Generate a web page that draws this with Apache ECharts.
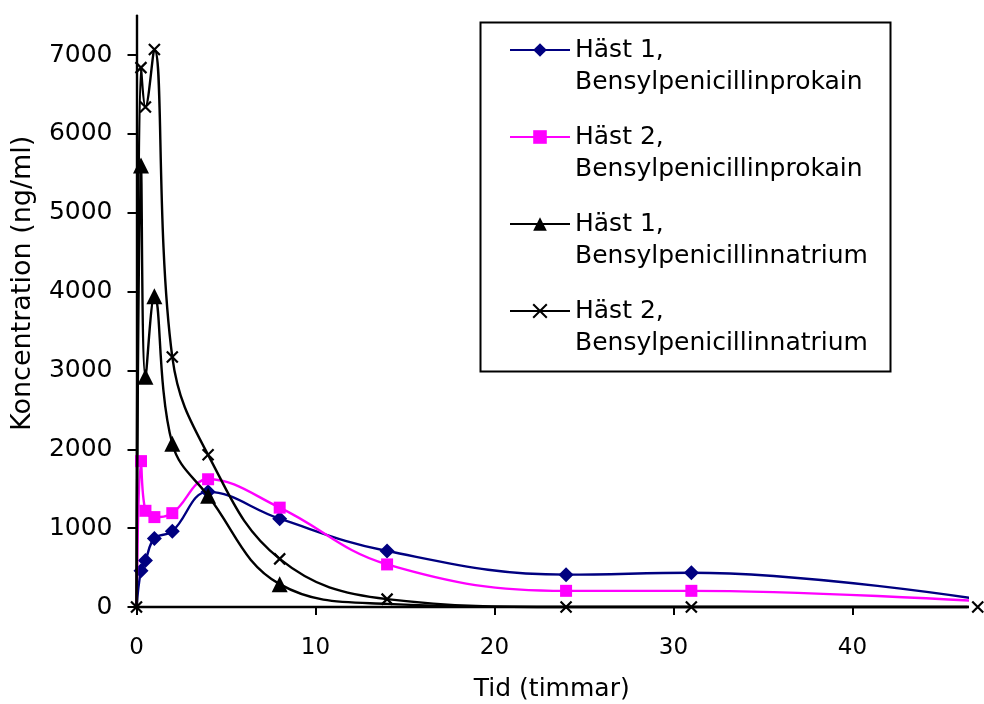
<!DOCTYPE html>
<html><head><meta charset="utf-8">
<script src="https://cdn.jsdelivr.net/npm/echarts@6/dist/echarts.min.js"></script>
<style>html,body{margin:0;padding:0;background:#fff}#c{width:984px;height:704px}</style>
</head><body><div id="c"></div>
<script>
// ---- data ----
const timesHours = [0, 0.25, 0.5, 1, 2, 4, 8, 14, 24, 31, 47];
const hast1Prokain = [0, 460, 590, 870, 960, 1460, 1120, 710, 410, 435, 100];
const hast2Prokain = [0, 1850, 1220, 1140, 1190, 1620, 1260, 540, 205, 205, 75];
const hast1Natrium = [0, 5600, 2920, 3940, 2070, 1410, 290, 40, 0, 0, 0];
const hast2Natrium = [0, 6840, 6340, 7070, 3170, 1930, 610, 100, 0, 0, 0];
const seriesNames = [
  'Häst 1, Bensylpenicillinprokain',
  'Häst 2, Bensylpenicillinprokain',
  'Häst 1, Bensylpenicillinnatrium',
  'Häst 2, Bensylpenicillinnatrium'
];
const xTickValues = [0, 10, 20, 30, 40];
const yTickValues = [0, 1000, 2000, 3000, 4000, 5000, 6000, 7000];
const xAxisTitle = 'Tid (timmar)';
const yAxisTitle = 'Koncentration (ng/ml)';

const FONT = 'DejaVu Sans';
const crossPath = 'path://M0 0L10 10M10 0L0 10';

function pts(values, isCross) {
  return timesHours.map((t, i) => {
    const item = { value: [t, values[i]] };
    // markers hidden where the cross marker (drawn with white box) covers them
    if (!isCross && Math.abs(values[i] - hast2Natrium[i]) < 150) item.symbol = 'none';
    return item;
  });
}

const styles = [
  { color: '#000080', symbol: 'diamond', size: 15, clip: true },
  { color: '#FF00FF', symbol: 'rect', size: 12, clip: true },
  { color: '#000000', symbol: 'triangle', size: 16, clip: true },
  { color: '#000000', symbol: crossPath, size: 11, clip: false }
];
const allValues = [hast1Prokain, hast2Prokain, hast1Natrium, hast2Natrium];

const series = allValues.map((vals, k) => ({
  name: seriesNames[k],
  type: 'line',
  smooth: 0.4,
  data: pts(vals, k === 3),
  symbol: styles[k].symbol,
  symbolSize: styles[k].size,
  showAllSymbol: true,
  clip: styles[k].clip,
  z: 2 + k,
  lineStyle: { color: styles[k].color, width: 2.4 },
  itemStyle: k === 3
    ? { color: '#000', borderColor: '#000', borderWidth: 2.2 }
    : { color: styles[k].color, borderWidth: 0 },
  emphasis: { disabled: true }
}));

const chart = echarts.init(document.getElementById('c'), null, { renderer: 'canvas' });
chart.setOption({
  animation: false,
  backgroundColor: '#fff',
  grid: { left: 136.5, right: 17, top: 15.6, bottom: 97, containLabel: false, outerBoundsMode: 'none' },
  xAxis: {
    type: 'value', min: 0, max: 46.4,
    name: xAxisTitle, nameLocation: 'middle', nameGap: 70,
    nameTextStyle: { fontFamily: FONT, fontSize: 25, color: '#000' },
    axisLine: { lineStyle: { color: '#000', width: 2.4 } },
    axisTick: { show: true, length: 8, lineStyle: { color: '#000', width: 2 }, customValues: xTickValues },
    axisLabel: { fontFamily: FONT, fontSize: 23, color: '#000', margin: 30, customValues: xTickValues },
    splitLine: { show: false }
  },
  yAxis: {
    type: 'value', min: 0, max: 7500,
    name: yAxisTitle, nameLocation: 'middle', nameGap: 100, nameRotate: 90,
    nameTextStyle: { fontFamily: FONT, fontSize: 27, color: '#000', padding: [0, 0, 0, 56] },
    axisLine: { show: true, lineStyle: { color: '#000', width: 2.4 } },
    axisTick: { show: true, length: 9, lineStyle: { color: '#000', width: 2 }, customValues: yTickValues },
    axisLabel: { fontFamily: FONT, fontSize: 25, color: '#000', margin: 24, customValues: yTickValues,
                 formatter: v => String(v) },
    splitLine: { show: false }
  },
  legend: {
    orient: 'vertical', left: 509, top: 2, padding: 0,
    itemWidth: 60, itemHeight: 17, itemGap: -9,
    data: seriesNames,
    formatter: n => '\n' + n.replace(', ', ',\n'),
    textStyle: { fontFamily: FONT, fontSize: 25, lineHeight: 32, color: '#000' },
    selectedMode: false
  },
  graphic: [{
    type: 'rect', left: 478, top: 20, z: -1,
    shape: { width: 410, height: 349 },
    style: { fill: 'none', stroke: '#000', lineWidth: 2 }
  }],
  series: series
});
</script>
</body></html>
